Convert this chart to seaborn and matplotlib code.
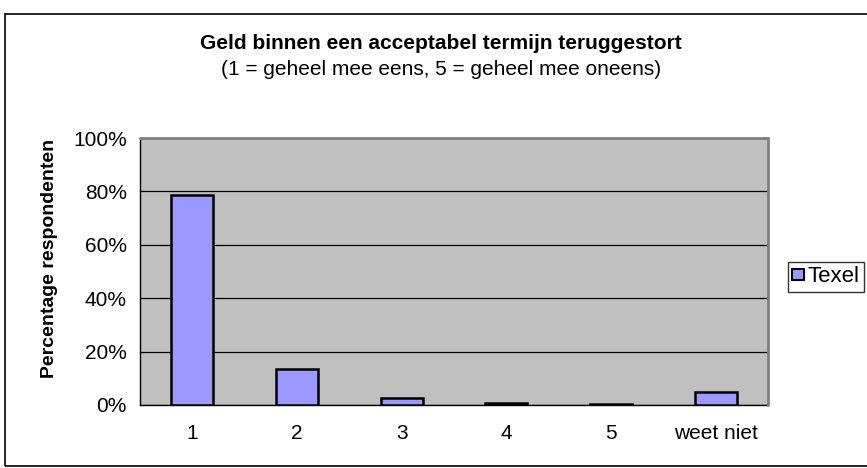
import matplotlib
matplotlib.use("Agg")
import matplotlib.pyplot as plt
import seaborn as sns
import pandas as pd
from matplotlib.patches import Rectangle
from matplotlib.ticker import FixedLocator, PercentFormatter

categories = ["1", "2", "3", "4", "5", "weet niet"]
texel = [78.5, 13.4, 2.5, 0.8, 0.4, 5.0]
series_name = "Texel"
title = "Geld binnen een acceptabel termijn teruggestort"
subtitle = "(1 = geheel mee eens, 5 = geheel mee oneens)"
ylabel = "Percentage respondenten"

df = pd.DataFrame({"cat": categories, "val": texel, "serie": series_name})

sns.set_style("white")
plt.rcParams["font.family"] = ["Liberation Sans", "DejaVu Sans"]
plt.rcParams["text.color"] = "black"
plt.rcParams["xtick.color"] = "black"
plt.rcParams["ytick.color"] = "black"

W, H = 867, 468
L, R, T, B = 140, 768, 138, 405
fig = plt.figure(figsize=(W / 100, H / 100), dpi=100)
ax = fig.add_axes([L / W, 1 - B / H, (R - L) / W, (B - T) / H])

sns.barplot(data=df, x="cat", y="val", hue="serie", palette=["#9999FF"],
            width=0.4, edgecolor="black", linewidth=1.8, ax=ax, saturation=1,
            legend=True, zorder=3)

ax.set_facecolor("#C0C0C0")
ax.set_ylim(0, 100)
ax.set_xlim(-0.5, 5.5)
ax.yaxis.set_major_locator(FixedLocator([0, 20, 40, 60, 80, 100]))
ax.yaxis.set_major_formatter(PercentFormatter(decimals=0))
ax.grid(axis="y", color="black", linewidth=0.9, zorder=0)
ax.set_axisbelow(True)
ax.xaxis.set_minor_locator(FixedLocator([i - 0.5 for i in range(7)]))
ax.tick_params(axis="x", which="major", length=0, pad=13.5, labelsize=15, labelcolor="black")
ax.tick_params(axis="x", which="minor", length=3.6, width=1, color="black", direction="out")
ax.tick_params(axis="y", which="major", length=3.6, width=1, color="black", direction="out",
               labelsize=15, pad=5.8, labelcolor="black")
for s in ["top", "right"]:
    ax.spines[s].set_visible(False)
for s in ["left", "bottom"]:
    ax.spines[s].set_color("black")
    ax.spines[s].set_linewidth(1)
ax.set_xlabel("")
ax.set_ylabel("")

ax.plot([0, 1], [1, 1], transform=ax.transAxes, color="#808080", lw=2, clip_on=False, zorder=4)
ax.plot([1, 1], [0, 1], transform=ax.transAxes, color="#808080", lw=2, clip_on=False, zorder=4)

fig.text(50 / W, 1 - 258.5 / H, ylabel, rotation=90, ha="center", va="center",
         fontsize=14, fontweight="bold")

leg = ax.legend(loc="center left", bbox_to_anchor=(788 / W, 1 - 277 / H),
                bbox_transform=fig.transFigure, frameon=True, fancybox=False,
                fontsize=16, handlelength=0.5, handleheight=0.4, handletextpad=0.2,
                borderpad=0.2, borderaxespad=0)
leg.get_frame().set_edgecolor("black")
leg.get_frame().set_linewidth(1)
for h in leg.legend_handles:
    h.set_edgecolor("black")
    h.set_linewidth(1.5)

fig.text(441 / W, 1 - 49 / H, title, ha="center", va="baseline", fontsize=15, fontweight="bold")
fig.text(441 / W, 1 - 75 / H, subtitle, ha="center", va="baseline", fontsize=15)

fig.patches.append(Rectangle((5 / W, 2 / H), 1.2, 1 - 16 / H, transform=fig.transFigure,
                             fill=False, edgecolor="black", linewidth=1.2))

fig.savefig("out.png", dpi=100)
